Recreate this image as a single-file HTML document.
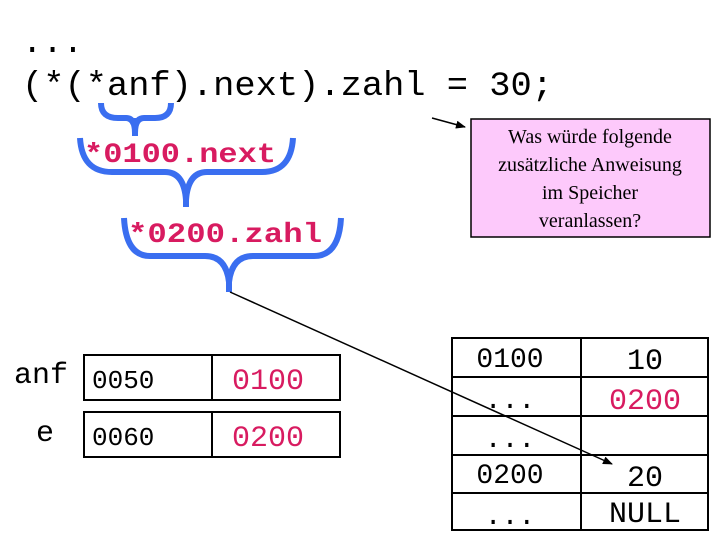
<!DOCTYPE html>
<html><head><meta charset="utf-8"><style>html,body{margin:0;padding:0;background:#fff}svg{display:block}</style></head>
<body>
<svg width="720" height="540" viewBox="0 0 720 540" xmlns="http://www.w3.org/2000/svg">
<defs><marker id="ah" markerWidth="10" markerHeight="8" refX="9" refY="4" orient="auto" markerUnits="userSpaceOnUse"><path d="M0,0 L10,4 L0,8 z" fill="#000"/></marker></defs>
<g font-family="Liberation Mono, monospace" fill="#000">
<text x="22" y="52" font-size="34">...</text>
<text x="22" y="95" font-size="34" textLength="531" lengthAdjust="spacingAndGlyphs">(*(*anf).next).zahl = 30;</text>
</g>
<g fill="none" stroke="#3a6ef0" stroke-width="6" stroke-linecap="butt">
<path d="M101,103 Q101,118 118,118 L126,118 Q135,118 135,133 Q135,118 144,118 L155,118 Q171,118 171,103"/>
<path d="M135,118 L135,136"/>
<path d="M80,138 Q82,172 112,172 L165,172 Q184,172 186,200 Q188,172 207,172 L262,172 Q291,172 293,138"/>
<path d="M186,190 L186,207"/>
<path d="M124,218 Q126,256 150,256 L205,256 Q226,256 229,282 Q232,256 253,256 L314,256 Q339,256 341,218"/>
<path d="M229,275 L229,292"/>
</g>
<g font-family="Liberation Mono, monospace" font-weight="bold" fill="#d81b60" font-size="28">
<text x="84" y="162" textLength="192" lengthAdjust="spacingAndGlyphs">*0100.next</text>
<text x="128" y="242" textLength="194" lengthAdjust="spacingAndGlyphs">*0200.zahl</text>
</g>
<rect x="471" y="119" width="239" height="118" fill="#fdc9fb" stroke="#000" stroke-width="1.5"/>
<g font-family="Liberation Serif, serif" font-size="20" text-anchor="middle" fill="#000">
<text x="590" y="143">Was würde folgende</text>
<text x="590" y="171">zusätzliche Anweisung</text>
<text x="590" y="199">im Speicher</text>
<text x="590" y="227">veranlassen?</text>
</g>
<line x1="432" y1="118" x2="465" y2="127" stroke="#000" stroke-width="1.5" marker-end="url(#ah)"/>
<g stroke="#000" stroke-width="2" fill="none">
<rect x="84" y="355" width="256" height="45"/><line x1="212" y1="355" x2="212" y2="400"/>
<rect x="84" y="412" width="256" height="45"/><line x1="212" y1="412" x2="212" y2="457"/>
<rect x="452" y="338" width="256" height="192"/><line x1="581" y1="338" x2="581" y2="530"/>
<line x1="452" y1="377" x2="708" y2="377"/><line x1="452" y1="416" x2="708" y2="416"/>
<line x1="452" y1="455" x2="708" y2="455"/><line x1="452" y1="493" x2="708" y2="493"/>
</g>
<g font-family="Liberation Mono, monospace" fill="#000">
<text x="14" y="383" font-size="30">anf</text>
<text x="36" y="441" font-size="30">e</text>
<text x="92" y="388" font-size="26">0050</text>
<text x="92" y="445" font-size="26">0060</text>
<text x="232" y="389" font-size="30" fill="#d81b60">0100</text>
<text x="232" y="446" font-size="30" fill="#d81b60">0200</text>
<g font-size="28" text-anchor="middle">
<text x="510" y="367">0100</text>
<text x="510" y="408">...</text>
<text x="510" y="447">...</text>
<text x="510" y="483">0200</text>
<text x="510" y="524">...</text>
<text x="645" y="369" font-size="30">10</text>
<text x="645" y="409" font-size="30" fill="#d81b60">0200</text>
<text x="645" y="486" font-size="30">20</text>
<text x="645" y="522" font-size="30">NULL</text>
</g>
</g>
<line x1="230" y1="292" x2="612" y2="464" stroke="#000" stroke-width="1.5" marker-end="url(#ah)"/>
</svg>
</body></html>
